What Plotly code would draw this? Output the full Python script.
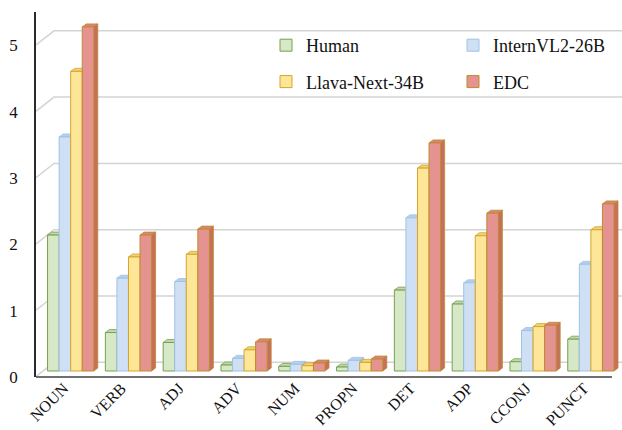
import plotly.graph_objects as go

categories = ["NOUN", "VERB", "ADJ", "ADV", "NUM", "PROPN", "DET", "ADP", "CCONJ", "PUNCT"]
human = [2.05, 0.58, 0.43, 0.09, 0.07, 0.06, 1.22, 1.01, 0.14, 0.48]
internvl = [3.53, 1.40, 1.35, 0.19, 0.10, 0.16, 2.31, 1.33, 0.61, 1.61]
llava = [4.52, 1.72, 1.76, 0.32, 0.08, 0.13, 3.06, 2.04, 0.67, 2.13]
edc = [5.19, 2.05, 2.14, 0.44, 0.12, 0.18, 3.44, 2.38, 0.69, 2.52]
series_names = ["Human", "InternVL2-26B", "Llava-Next-34B", "EDC"]
y_ticks = [0, 1, 2, 3, 4, 5]

series_values = [human, internvl, llava, edc]
fills = ["#d6e8c6", "#cfe0f5", "#fee698", "#e59391"]
lines = ["#76a053", "#9fc2e6", "#d5a52a", "#bf8a2c"]
tops = ["#c0d9ab", "#b6cfee", "#f3d274", "#d9857a"]
sides = ["#a9c78f", "#9fbde3", "#e0bb4f", "#c5705f"]
legend_of = ["legend", "legend2", "legend", "legend2"]

W, H = 622, 430
ML, MR, MT, MB = 36, 0, 12, 53
PW, PH = W - ML - MR, H - MT - MB
PX_X = 57.8
PX_Y = 66.3
X0 = -0.6
X1 = X0 + PW / PX_X
Y0 = -6.0 / PX_Y
Y1 = (371 - MT) / PX_Y
DX = 4.0 / PX_X
DY = 3.0 / PX_Y
BW = 0.2

xs = list(range(len(categories)))

fig = go.Figure()
shapes = []

# back wall gridlines with diagonal to front axis
for k in y_ticks:
    yf = k - 5.5 / PX_Y
    yb = k + 8.7 / PX_Y
    shapes.append(dict(type="path", xref="x", yref="y", layer="below",
                       path=f"M {X0},{yf} L {X0 + 18 / PX_X},{yb} L {X1 + 0.5},{yb}",
                       line=dict(color="#d4d4d4", width=1.5)))

for i, (name, vals) in enumerate(zip(series_names, series_values)):
    off = -0.4 + i * BW
    fig.add_trace(go.Bar(
        x=xs, y=vals, name=name, width=BW, offset=off,
        marker=dict(color=fills[i], line=dict(color=lines[i], width=1)),
        legend=legend_of[i], legendgroup=name,
    ))
    for j, v in enumerate(vals):
        xl = j + off
        xr = xl + BW
        shapes.append(dict(type="path", xref="x", yref="y", layer="below",
                           path=f"M {xl},{v} L {xr},{v} L {xr + DX},{v + DY} L {xl + DX},{v + DY} Z",
                           fillcolor=tops[i], line=dict(color=lines[i], width=0.8)))
        shapes.append(dict(type="path", xref="x", yref="y", layer="below",
                           path=f"M {xr},0 L {xr},{v} L {xr + DX},{v + DY} L {xr + DX},{DY} Z",
                           fillcolor=sides[i], line=dict(color=lines[i], width=0.8)))

# front floor edge (x axis line)
shapes.append(dict(type="line", xref="paper", yref="paper", x0=0, x1=(612 - ML) / PW, y0=0, y1=0,
                   line=dict(color="#404040", width=1.5), layer="above"))

font_family = "Liberation Serif"

fig.update_layout(
    width=W, height=H,
    margin=dict(l=ML, r=MR, t=MT, b=MB, autoexpand=False),
    paper_bgcolor="white", plot_bgcolor="white",
    barmode="overlay",
    shapes=shapes,
    font=dict(family=font_family, color="#111111"),
    xaxis=dict(range=[X0, X1], tickmode="array", tickvals=xs, ticktext=categories,
               tickangle=-45, tickfont=dict(size=16, family=font_family, color="#111111"),
               showgrid=False, zeroline=False, showline=False, ticks="",
               automargin=False, ticklabelstandoff=-2, ticklabelshift=-7),
    yaxis=dict(range=[Y0, Y1], tickmode="array", tickvals=y_ticks,
               tickfont=dict(size=17, family=font_family, color="#111111"),
               showgrid=False, zeroline=False, showline=True, linecolor="#2a2a2a", linewidth=1.5,
               ticks="", automargin=False, ticklabelstandoff=13, ticklabelshift=6),
    legend=dict(x=(266 - ML) / PW, xanchor="left", y=1 - (27 - MT) / PH, yanchor="top",
                bgcolor="rgba(0,0,0,0)", font=dict(size=18, family=font_family),
                tracegroupgap=10, orientation="v"),
    legend2=dict(x=(453 - ML) / PW, xanchor="left", y=1 - (27 - MT) / PH, yanchor="top",
                 bgcolor="rgba(0,0,0,0)", font=dict(size=18, family=font_family),
                 tracegroupgap=10, orientation="v"),
    showlegend=True,
)

fig.write_html("out.html", config={"displayModeBar": False},
               post_script="document.body.style.margin='0px';")
